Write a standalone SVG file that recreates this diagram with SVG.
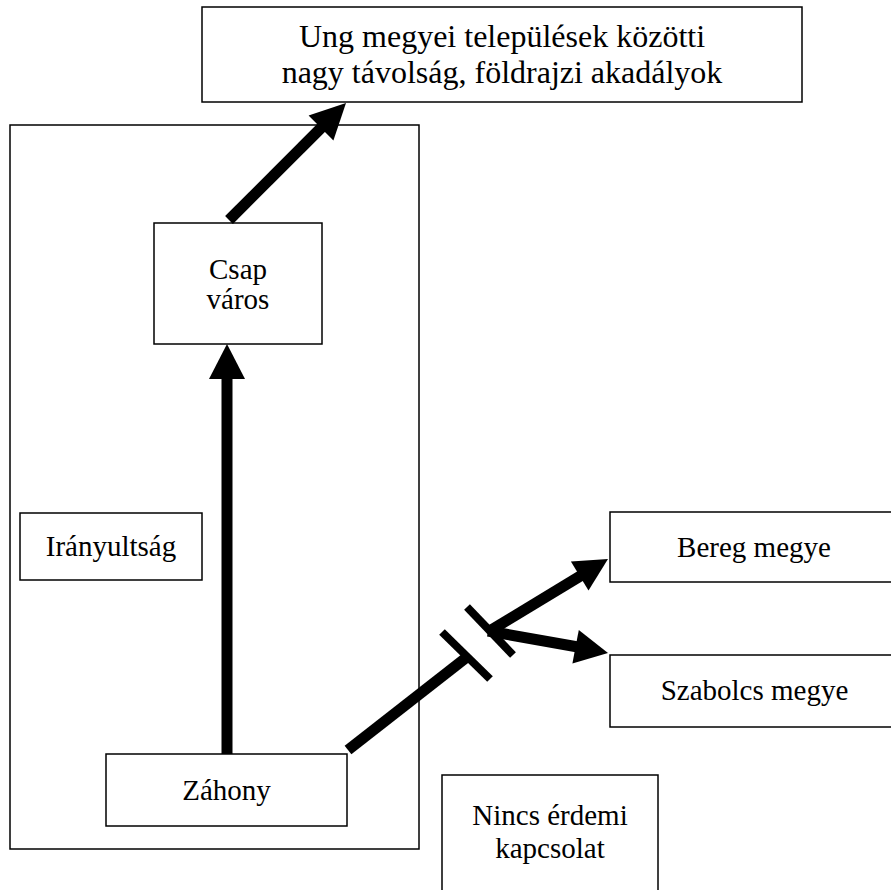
<svg xmlns="http://www.w3.org/2000/svg" width="891" height="890" viewBox="0 0 891 890">
<style>
.box{fill:#fff;stroke:#000;stroke-width:1.5}
.frame{fill:none;stroke:#000;stroke-width:1.5}
text{font-family:"Liberation Serif","Times New Roman",serif;font-size:29px;fill:#000;text-anchor:middle}
.big{font-size:32px}
.shaft{stroke:#000;stroke-width:11;fill:none}
.mark{stroke:#000;stroke-width:8;fill:none}
.head{fill:#000}
</style>
<rect width="891" height="890" fill="#fff"/>
<g id="container"><rect class="frame" x="10" y="125" width="409" height="724"/></g>
<g id="ung"><rect class="box" x="202" y="7" width="600" height="95"/>
<text class="big" x="502" y="47">Ung megyei települések közötti</text>
<text class="big" x="502" y="83">nagy távolság, földrajzi akadályok</text></g>
<g id="csap"><rect class="box" x="154" y="223" width="168" height="121"/>
<text x="238" y="279">Csap</text><text x="238" y="309">város</text></g>
<g id="iranyultsag"><rect class="box" x="20" y="513" width="182" height="67"/>
<text x="111" y="556">Irányultság</text></g>
<g id="zahony"><rect class="box" x="106" y="754" width="241" height="72"/>
<text x="226.5" y="800">Záhony</text></g>
<g id="bereg"><rect class="box" x="610" y="512" width="290" height="70"/>
<text x="754" y="557">Bereg megye</text></g>
<g id="szabolcs"><rect class="box" x="610" y="655" width="290" height="72"/>
<text x="754.5" y="700">Szabolcs megye</text></g>
<g id="nincs"><rect class="box" x="442" y="775" width="216" height="130"/>
<text x="550" y="825">Nincs érdemi</text><text x="550" y="858">kapcsolat</text></g>
<g id="connectors">
<line class="shaft" x1="227" y1="754" x2="227" y2="378"/>
<polygon class="head" points="209,379 245,379 227,344"/>
<line class="shaft" x1="229" y1="220" x2="323" y2="126"/>
<polygon class="head" points="308.6,115.6 333.4,140.4 346,103"/>
<line class="shaft" x1="348" y1="750" x2="467" y2="657"/>
<line class="mark" x1="442" y1="632" x2="490" y2="679"/>
<line class="mark" x1="467" y1="607" x2="513" y2="655"/>
<line class="shaft" x1="488" y1="632" x2="582" y2="575"/>
<line class="shaft" x1="488" y1="631" x2="578" y2="647"/>
<polygon class="head" points="570.9,561.4 588.5,590.6 608,559"/>
<polygon class="head" points="578.8,630 572.4,663.4 608,653"/>
</g>
</svg>
